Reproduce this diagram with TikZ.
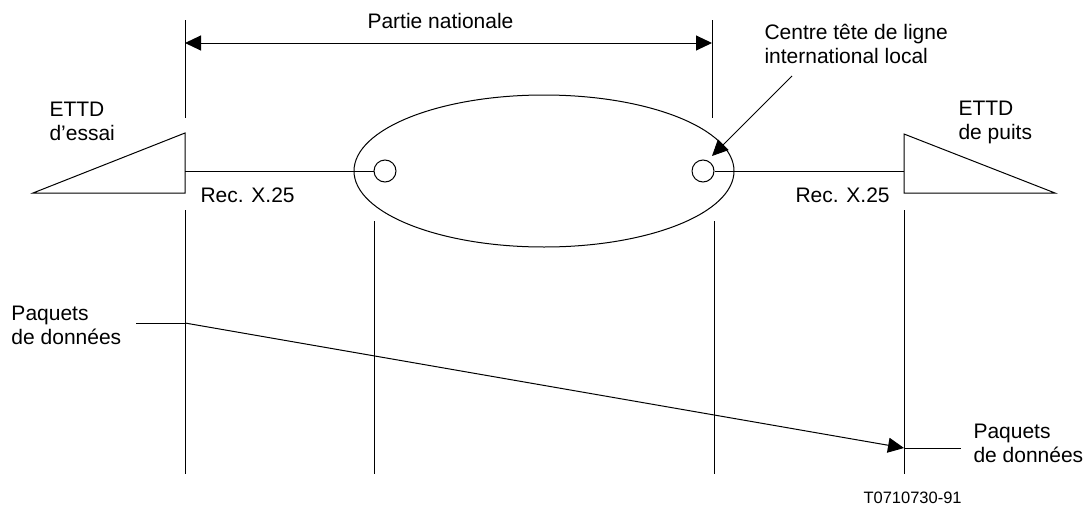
\documentclass[tikz,border=0pt]{standalone}
\usepackage{fontspec}
\setmainfont{Liberation Sans}
\usetikzlibrary{arrows.meta,shapes.geometric}
\begin{document}
\begin{tikzpicture}[x=1pt,y=-1pt,line width=1pt,
  lbl/.style={font=\fontsize{21}{23.5}\selectfont, inner sep=0pt, align=left, anchor=base west},
  small/.style={font=\fontsize{16.5}{19}\selectfont, inner sep=0pt, anchor=base west},
  tip/.style={-{Triangle[length=16pt,width=15pt]}},
  dtip/.style={{Triangle[length=16pt,width=15pt]}-{Triangle[length=16pt,width=15pt]}},
  ring/.style={draw,circle,minimum size=22pt,inner sep=0pt},
  cloud/.style={draw,ellipse,minimum width=380pt,minimum height=152pt,inner sep=0pt}]
\useasboundingbox (0,0) rectangle (1086,506);
% vertical reference lines
\coordinate (a1) at (185,20);  \coordinate (a2) at (185,118);
\coordinate (a3) at (185,210); \coordinate (a4) at (185,474);
\coordinate (b1) at (374,221); \coordinate (b2) at (374,474);
\coordinate (c1) at (712,20);  \coordinate (c2) at (712,118);
\coordinate (c3) at (714,221); \coordinate (c4) at (714,474);
\coordinate (d1) at (904,210); \coordinate (d2) at (904,474);
\draw (a1) -- (a2); \draw (a3) -- (a4);
\draw (b1) -- (b2);
\draw (c1) -- (c2); \draw (c3) -- (c4);
\draw (d1) -- (d2);
% dimension arrow
\coordinate (dl) at (185,43); \coordinate (dr) at (712,43);
\draw[dtip] (dl) -- (dr);
\node[lbl] (nat) at (367,28) {Partie nationale};
% DTE triangles
\coordinate (tl1) at (33,193); \coordinate (tl2) at (185,133); \coordinate (tl3) at (185,193);
\draw (tl1) -- (tl2) -- (tl3) -- cycle;
\coordinate (tr1) at (904,134); \coordinate (tr2) at (904,193); \coordinate (tr3) at (1055,193);
\draw (tr1) -- (tr2) -- (tr3) -- cycle;
\coordinate (tl) at (185,171); \coordinate (tr) at (904,171);
% network
\node[cloud] (net) at (544,171) {};
\node[ring] (cL) at (385,171) {};
\node[ring] (cR) at (703,171) {};
\draw (tl) -- (cL.west);
\draw (cR.east) -- (tr);
% labels (base = baseline of last line)
\node[lbl] (dteA) at (49,140) {ETTD\\d’essai};
\node[lbl] (dteB) at (958,139) {ETTD\\de puits};
\node[lbl] (recA) at (200,202) {Rec. X.25};
\node[lbl] (recB) at (795,202) {Rec. X.25};
\node[lbl] (ctl) at (764,63) {Centre tête de ligne\\international local};
\coordinate (ps) at (792,76); \coordinate (pt) at (712,156);
\draw[tip,line width=0.8pt] (ps) -- (pt);
% data packets
\node[lbl] (pqA) at (11,344) {Paquets\\de données};
\node[lbl] (pqB) at (973,462) {Paquets\\de données};
\coordinate (pl) at (136,323); \coordinate (pa) at (185,323);
\coordinate (pb) at (904,448); \coordinate (pr) at (961,448);
\draw (pl) -- (pa);
\draw[tip] (pa) -- (pb);
\draw (pb) -- (pr);
\node[small] (ref) at (863,503) {T0710730-91};
\end{tikzpicture}
\end{document}
